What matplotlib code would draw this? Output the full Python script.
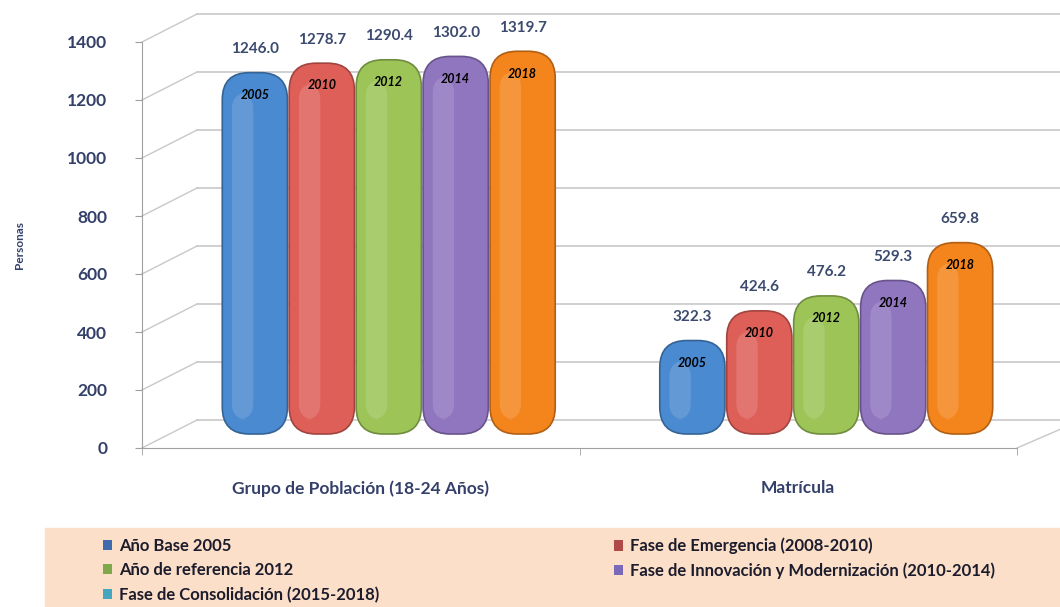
import numpy as np
import matplotlib as mpl
mpl.use("Agg")
from matplotlib import pyplot as plt
from matplotlib.patches import FancyBboxPatch, Patch, Rectangle
from matplotlib.lines import Line2D
import matplotlib.transforms as mtransforms

mpl.rcParams['font.family'] = ['Lato', 'DejaVu Sans']

# datos
categorias = ["Grupo de Población (18-24 Años)", "Matrícula"]
anios = ["2005", "2010", "2012", "2014", "2018"]
poblacion = [1246.0, 1278.7, 1290.4, 1302.0, 1319.7]
matricula = [322.3, 424.6, 476.2, 529.3, 659.8]
series_nombres = ["Año Base 2005", "Fase de Emergencia (2008-2010)",
                  "Año de referencia 2012",
                  "Fase de Innovación y Modernización (2010-2014)",
                  "Fase de Consolidación (2015-2018)"]
colores = ["#4a8ad0", "#de5f58", "#9cc457", "#9075bf", "#f4841c"]
colores_leyenda = ["#3f6aad", "#b04a48", "#7fa84a", "#7a68b8", "#45a7bf"]
yticks = [0, 200, 400, 600, 800, 1000, 1200, 1400]

texto = "#34406a"

fig = plt.figure(figsize=(10.6, 6.07), dpi=100)
fig.patch.set_facecolor("white")

# banda de la leyenda
fig.patches.append(Rectangle((45/1060, 0), 1 - 45/1060, 79/607,
                             transform=fig.transFigure, color="#fbdfc9",
                             zorder=0))

ax = fig.add_axes([142/1060, 1 - 448/607, 875/1060, 406/607])
ax.set_xlim(-0.5, 1.5)
ax.set_ylim(0, 1400)
ax.patch.set_alpha(0)
for s in ["top", "right"]:
    ax.spines[s].set_visible(False)
ax.spines["left"].set_color("#a0a0a0")
ax.spines["bottom"].set_color("#a0a0a0")

ax.set_yticks(yticks)
ax.set_yticklabels([str(v) for v in yticks], fontsize=12.5,
                   fontweight="bold", color=texto)
ax.tick_params(axis="y", length=5, color="#a0a0a0", pad=20)
ax.set_xticks([0, 1])
ax.set_xticklabels(categorias, fontsize=12.5, fontweight="bold", color=texto)
ax.tick_params(axis="x", length=0, pad=23)
ax.set_xticks([-0.5, 0.5, 1.5], minor=True)
ax.tick_params(axis="x", which="minor", length=5, color="#a0a0a0")
ax.set_ylabel("Personas", fontsize=8.5, fontweight="bold", color=texto,
              labelpad=30)

# pared de fondo (efecto 3D)
dx, dy = 55, 28
desplaz = mtransforms.ScaledTranslation(dx/100, dy/100, fig.dpi_scale_trans)
fondo = ax.transData + desplaz
for v in yticks:
    ax.plot([-0.5, 1.6], [v, v], color="#c8c8c8", lw=1.2, transform=fondo,
            clip_on=False, zorder=1)
    p0 = ax.transData.transform((-0.5, v))
    p1 = p0 + np.array([dx, dy])
    ax.add_line(Line2D([p0[0], p1[0]], [p0[1], p1[1]], transform=None,
                       color="#c8c8c8", lw=1.0, clip_on=False, zorder=1))
p0 = ax.transData.transform((1.5, 0))
ax.add_line(Line2D([p0[0], p0[0] + dx], [p0[1], p0[1] + dy * 0.85],
                   transform=None, color="#c8c8c8", lw=1.0, clip_on=False))

# barras redondeadas
ancho = 0.153
sep = 0.153
medio = mtransforms.ScaledTranslation(0.28, 0.14, fig.dpi_scale_trans)
tbar = ax.transData + medio
px_x = ax.transData.transform((1, 0))[0] - ax.transData.transform((0, 0))[0]
px_y = ax.transData.transform((0, 1))[1] - ax.transData.transform((0, 0))[1]
radio = 27 / px_x
aspecto = (27 / px_y) / radio

for ci, valores in enumerate([poblacion, matricula]):
    for i, v in enumerate(valores):
        xc = ci + (i - 2) * sep
        x0 = xc - ancho / 2 + 0.002
        borde = np.array(mpl.colors.to_rgb(colores[i])) * 0.72
        caja = FancyBboxPatch((x0, 0), ancho - 0.004, v,
                              boxstyle=f"round,pad=0,rounding_size={radio}",
                              mutation_aspect=aspecto, transform=tbar,
                              facecolor=colores[i], edgecolor=borde,
                              lw=1.2, zorder=3, clip_on=False)
        ax.add_patch(caja)
        brillo = FancyBboxPatch((x0 + 0.022, 50), ancho * 0.32, v - 120,
                                boxstyle=f"round,pad=0,rounding_size={radio*0.6}",
                                mutation_aspect=aspecto, transform=tbar,
                                facecolor="white", alpha=0.14, lw=0,
                                zorder=4, clip_on=False)
        ax.add_patch(brillo)
        ax.annotate(f"{v:.1f}", (xc, v), xytext=(0, 17), textcoords="offset points",
                    xycoords=tbar, ha="center", va="center", fontsize=11,
                    fontweight="bold", color="#3b4a6e", annotation_clip=False)
        ax.annotate(anios[i], (xc, v), xytext=(0, -16), textcoords="offset points",
                    xycoords=tbar, ha="center", va="center", fontsize=9,
                    fontweight="bold", fontstyle="italic", color="black",
                    zorder=5, annotation_clip=False)

# leyenda en dos columnas
def leyenda(indices, x):
    handles = [Patch(facecolor=colores_leyenda[k], edgecolor="none") for k in indices]
    labels = [series_nombres[k] for k in indices]
    leg = fig.legend(handles, labels, loc="upper left",
                     bbox_to_anchor=(x/1060, 1 - 527/607), frameon=False,
                     handlelength=0.55, handleheight=0.55, handletextpad=0.4,
                     labelspacing=0.5, borderpad=0.15,
                     prop={"weight": "bold", "size": 12})
    for t in leg.get_texts():
        t.set_color("#1c1c2c")

leyenda([0, 2, 4], 92)
leyenda([1, 3], 603)

plt.savefig("out.png", dpi=100)
